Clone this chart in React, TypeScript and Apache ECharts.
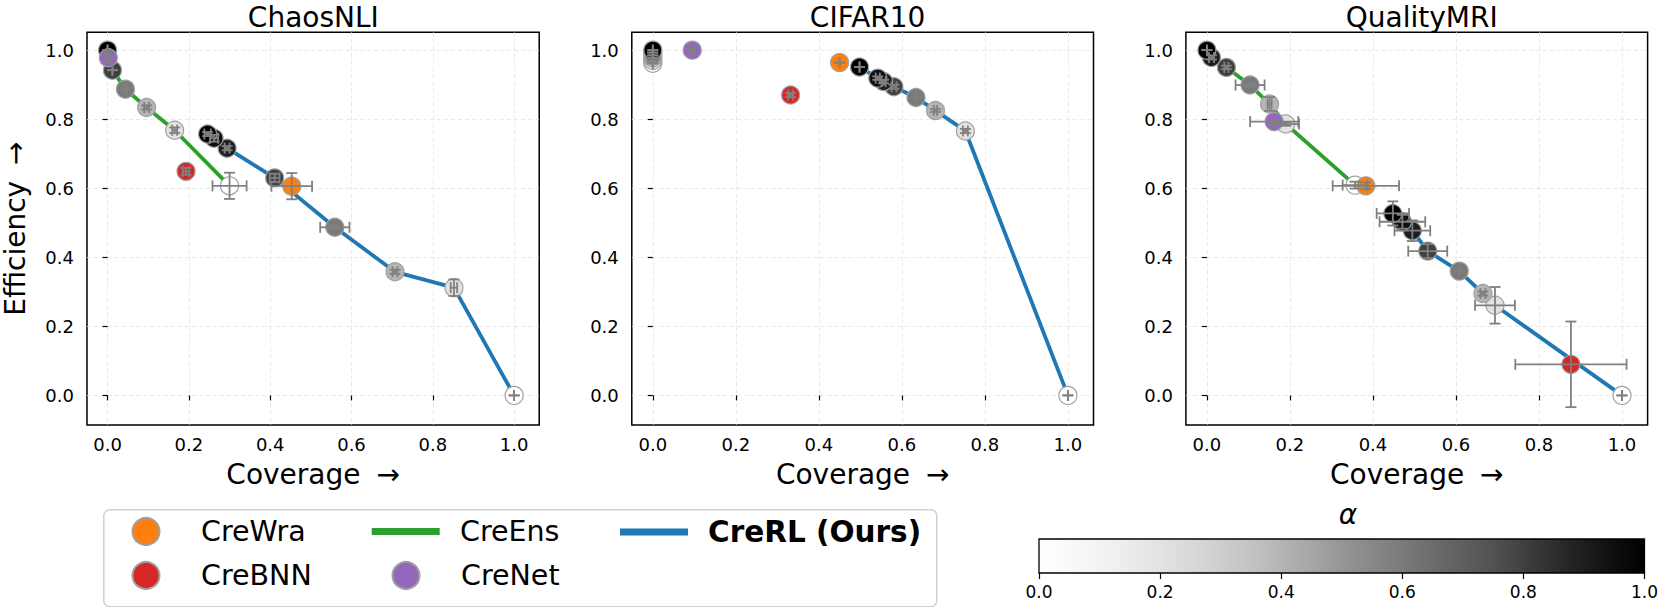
import React, { useEffect, useRef } from "react";
import * as echarts from "echarts";

// ---------- data ----------
const PANEL_TITLES = ["ChaosNLI", "CIFAR10", "QualityMRI"];
const X_TICKS = [0, 0.2, 0.4, 0.6, 0.8, 1.0];
const Y_TICKS = [0, 0.2, 0.4, 0.6, 0.8, 1.0];
const CBAR_TICKS = [0, 0.2, 0.4, 0.6, 0.8, 1.0];
const GREYS = ["#ffffff", "#f0f0f0", "#d9d9d9", "#bdbdbd", "#969696", "#737373", "#525252", "#252525", "#000000"];

// each point: [coverage, efficiency, coverageErr, efficiencyErr, alpha]
const chaosEns = [
  [0.0, 1.0, 0, 0, 1.0],
  [0.012, 0.942, 0, 0, 0.8],
  [0.044, 0.887, 0.003, 0.003, 0.6],
  [0.096, 0.834, 0.006, 0.006, 0.4],
  [0.165, 0.768, 0.006, 0.008, 0.2],
  [0.3, 0.607, 0.042, 0.038, 0.0],
];
const chaosRL = [
  [0.246, 0.757, 0.008, 0.006, 1.0],
  [0.262, 0.745, 0.01, 0.01, 0.95],
  [0.294, 0.716, 0.006, 0.006, 0.9],
  [0.411, 0.63, 0.012, 0.012, 0.8],
  [0.559, 0.487, 0.036, 0.005, 0.6],
  [0.707, 0.358, 0.006, 0.006, 0.4],
  [0.852, 0.312, 0.008, 0.024, 0.2],
  [1.0, 0.0, 0, 0, 0.0],
];
const chaosWra = [[0.453, 0.606, 0.05, 0.038]];
const chaosBNN = [[0.193, 0.649, 0.008, 0.01]];
const chaosNet = [[0.002, 0.978, 0.003, 0.01]];

const cifarEns = [
  [0.0, 1.0, 0, 0, 1.0],
  [0.0, 0.993, 0, 0, 0.8],
  [0.0, 0.985, 0, 0, 0.6],
  [0.0, 0.978, 0, 0, 0.4],
  [0.0, 0.97, 0, 0, 0.2],
  [0.0, 0.962, 0, 0, 0.0],
];
const cifarRL = [
  [0.498, 0.951, 0, 0, 1.0],
  [0.542, 0.919, 0.005, 0.005, 0.95],
  [0.556, 0.909, 0.005, 0.005, 0.9],
  [0.581, 0.894, 0.006, 0.006, 0.8],
  [0.634, 0.863, 0, 0, 0.6],
  [0.681, 0.825, 0.004, 0.004, 0.4],
  [0.753, 0.766, 0.006, 0.006, 0.2],
  [1.0, 0.0, 0, 0, 0.0],
];
const cifarWra = [[0.45, 0.964, 0, 0]];
const cifarBNN = [[0.332, 0.87, 0.006, 0.006]];
const cifarNet = [[0.095, 1.0, 0.005, 0.003]];

const qualEns = [
  [0.0, 1.0, 0, 0, 1.0],
  [0.011, 0.979, 0.006, 0.006, 0.9],
  [0.047, 0.95, 0.005, 0.005, 0.8],
  [0.104, 0.899, 0.035, 0.004, 0.6],
  [0.151, 0.844, 0.005, 0.02, 0.4],
  [0.19, 0.786, 0.032, 0.005, 0.2],
  [0.357, 0.609, 0.03, 0.01, 0.0],
];
const qualRL = [
  [0.448, 0.527, 0.039, 0.035, 1.0],
  [0.471, 0.503, 0.055, 0.02, 0.95],
  [0.495, 0.477, 0.043, 0.03, 0.9],
  [0.532, 0.418, 0.047, 0.02, 0.8],
  [0.608, 0.36, 0, 0, 0.6],
  [0.665, 0.295, 0.006, 0.006, 0.4],
  [0.694, 0.261, 0.048, 0.053, 0.2],
  [1.0, 0.0, 0, 0, 0.0],
];
const qualWra = [[0.383, 0.607, 0.08, 0.01]];
const qualBNN = [[0.877, 0.09, 0.134, 0.124]];
const qualNet = [[0.162, 0.793, 0.058, 0.005]];

const PANELS = [
  { ens: chaosEns, rl: chaosRL, wra: chaosWra, bnn: chaosBNN, net: chaosNet },
  { ens: cifarEns, rl: cifarRL, wra: cifarWra, bnn: cifarBNN, net: cifarNet },
  { ens: qualEns, rl: qualRL, wra: qualWra, bnn: qualBNN, net: qualNet },
];

// ---------- style / layout ----------
const FONT = "DejaVu Sans";
const C_WRA = "#ff7f0e";
const C_BNN = "#d62728";
const C_NET = "#9467bd";
const C_ENS = "#2ca02c";
const C_RL = "#1f77b4";
const ERR_COLOR = "#808080";
const EDGE = "#a0a0a0";
const GRID_LEFTS = [77.5, 631.8, 1185.9];
const GRID_TOP = 32.3;
const GRID_W = 461.7;
const GRID_H = 392.7;
const X_MIN = -0.0506;
const X_MAX = 1.0617;
const Y_MIN = -0.0857;
const Y_MAX = 1.0517;
const CAP = 5.5;
const MARKER = 18;

function errorRender(params: any, api: any) {
  const x = api.value(0);
  const y = api.value(1);
  const xe = api.value(2);
  const ye = api.value(3);
  const l = api.coord([x - xe, y]);
  const r = api.coord([x + xe, y]);
  const b = api.coord([x, y - ye]);
  const t = api.coord([x, y + ye]);
  const style = { stroke: ERR_COLOR, lineWidth: 1.8 };
  const ln = (x1: number, y1: number, x2: number, y2: number) => ({
    type: "line",
    shape: { x1, y1, x2, y2 },
    style,
  });
  return {
    type: "group",
    children: [
      ln(l[0], l[1], r[0], r[1]),
      ln(l[0], l[1] - CAP, l[0], l[1] + CAP),
      ln(r[0], r[1] - CAP, r[0], r[1] + CAP),
      ln(b[0], b[1], t[0], t[1]),
      ln(b[0] - CAP, b[1], b[0] + CAP, b[1]),
      ln(t[0] - CAP, t[1], t[0] + CAP, t[1]),
    ],
  };
}

function buildOption() {
  const grid: any[] = [];
  const xAxis: any[] = [];
  const yAxis: any[] = [];
  const series: any[] = [];
  const title: any[] = [];
  const greySeriesIdx: number[] = [];
  const nameStyle = {
    fontFamily: FONT,
    fontSize: 28,
    color: "#000",
    rich: { s: { width: 7 } },
  };

  PANELS.forEach((p, i) => {
    grid.push({
      left: GRID_LEFTS[i],
      top: GRID_TOP,
      width: GRID_W,
      height: GRID_H,
      show: true,
      borderColor: "#000",
      borderWidth: 1.5,
      backgroundColor: "#fff",
      containLabel: false,
    });
    title.push({
      text: PANEL_TITLES[i],
      left: GRID_LEFTS[i] + GRID_W / 2,
      top: -2,
      textAlign: "center",
      textStyle: { fontFamily: FONT, fontSize: 28, fontWeight: "normal", color: "#000" },
    });
    xAxis.push({
      type: "value",
      gridIndex: i,
      min: X_MIN,
      max: X_MAX,
      name: "Coverage {s|}→",
      nameLocation: "middle",
      nameGap: 35,
      nameTextStyle: nameStyle,
      axisLine: { show: false },
      axisTick: { show: true, customValues: X_TICKS, length: 5, lineStyle: { color: "#000", width: 1.2 } },
      axisLabel: {
        customValues: X_TICKS,
        fontFamily: FONT,
        fontSize: 18,
        color: "#000",
        margin: 10,
        formatter: (v: number) => v.toFixed(1),
      },
      splitLine: { show: true, lineStyle: { color: "#e3e3e3", type: [4, 3], width: 0.8 } },
    });
    yAxis.push({
      type: "value",
      gridIndex: i,
      min: Y_MIN,
      max: Y_MAX,
      name: i === 0 ? "Efficiency {s|}→" : "",
      nameLocation: "middle",
      nameGap: 58,
      nameTextStyle: nameStyle,
      axisLine: { show: false },
      axisTick: { show: true, customValues: Y_TICKS, length: 5, lineStyle: { color: "#000", width: 1.2 } },
      axisLabel: {
        customValues: Y_TICKS,
        fontFamily: FONT,
        fontSize: 18,
        color: "#000",
        margin: 13,
        formatter: (v: number) => v.toFixed(1),
      },
      splitLine: { show: true, lineStyle: { color: "#e3e3e3", type: [4, 3], width: 0.8 } },
    });

    series.push({
      type: "line",
      name: "CreEns",
      xAxisIndex: i,
      yAxisIndex: i,
      data: p.ens.map((d) => [d[0], d[1]]),
      symbol: "none",
      color: C_ENS,
      lineStyle: { color: C_ENS, width: 3.8 },
      z: 2,
    });
    series.push({
      type: "line",
      name: "CreRL (Ours)",
      xAxisIndex: i,
      yAxisIndex: i,
      data: p.rl.map((d) => [d[0], d[1]]),
      symbol: "none",
      color: C_RL,
      lineStyle: { color: C_RL, width: 3.8 },
      z: 2,
    });
    greySeriesIdx.push(series.length);
    const greyPts = [...p.ens, ...p.rl].slice().sort((a, b) => a[4] - b[4]);
    series.push({
      type: "scatter",
      name: "alpha points",
      xAxisIndex: i,
      yAxisIndex: i,
      data: greyPts,
      encode: { x: 0, y: 1 },
      symbol: "circle",
      symbolSize: MARKER,
      itemStyle: { borderColor: EDGE, borderWidth: 1.2, opacity: 1 },
      z: 3,
    });
    const colored: [string, number[][], string][] = [
      ["CreWra", p.wra, C_WRA],
      ["CreBNN", p.bnn, C_BNN],
      ["CreNet", p.net, C_NET],
    ];
    colored.forEach(([name, data, color]) => {
      series.push({
        type: "scatter",
        name,
        xAxisIndex: i,
        yAxisIndex: i,
        data,
        encode: { x: 0, y: 1 },
        symbol: "circle",
        symbolSize: MARKER,
        color,
        itemStyle: { color, borderColor: EDGE, borderWidth: 1.2, opacity: 1 },
        z: 4,
      });
    });
    series.push({
      type: "custom",
      name: "errors",
      xAxisIndex: i,
      yAxisIndex: i,
      data: [...p.ens, ...p.rl, ...p.wra, ...p.bnn, ...p.net].map((d) => [d[0], d[1], d[2], d[3]]),
      encode: { x: 0, y: 1 },
      renderItem: errorRender,
      clip: false,
      silent: true,
      z: 5,
    });
  });

  // colorbar
  grid.push({ left: 1039, top: 539, width: 608, height: 34, show: false, containLabel: false });
  xAxis.push({
    type: "value",
    gridIndex: 3,
    min: 0,
    max: 1,
    axisLine: { show: false },
    axisTick: { show: true, customValues: CBAR_TICKS, length: 6, lineStyle: { color: "#000", width: 1.2 } },
    axisLabel: {
      customValues: CBAR_TICKS,
      fontFamily: FONT,
      fontSize: 17,
      color: "#000",
      margin: 10,
      formatter: (v: number) => v.toFixed(1),
    },
    splitLine: { show: false },
  });
  yAxis.push({ type: "value", gridIndex: 3, min: 0, max: 1, show: false });
  series.push({
    type: "custom",
    name: "colorbar",
    xAxisIndex: 3,
    yAxisIndex: 3,
    data: [[0, 0, 1, 1]],
    silent: true,
    renderItem: (params: any, api: any) => {
      const p0 = api.coord([api.value(0), api.value(3)]);
      const p1 = api.coord([api.value(2), api.value(1)]);
      return {
        type: "rect",
        shape: { x: p0[0], y: p0[1], width: p1[0] - p0[0], height: p1[1] - p0[1] },
        style: {
          fill: new echarts.graphic.LinearGradient(
            0,
            0,
            1,
            0,
            GREYS.map((c, k) => ({ offset: k / (GREYS.length - 1), color: c }))
          ),
          stroke: "#000",
          lineWidth: 1.3,
        },
      };
    },
  });
  title.push({
    text: "α",
    left: 1343,
    top: 495,
    textAlign: "center",
    textStyle: { fontFamily: FONT, fontSize: 28, fontStyle: "italic", fontWeight: "normal", color: "#000" },
  });

  // legends
  const mkLegend = (name: string, left: number, top: number, icon: string, w: number, h: number, pad: number, bold = false) => ({
    data: [{ name, icon }],
    left,
    top,
    padding: 0,
    itemWidth: w,
    itemHeight: h,
    selectedMode: false,
    z: 10,
    formatter: (n: string) => `{p|}{t|${n}}`,
    textStyle: {
      fontFamily: FONT,
      fontSize: 28.5,
      color: "#000",
      fontWeight: bold ? "bold" : "normal",
      rich: {
        p: { width: pad },
        t: { fontFamily: FONT, fontSize: bold ? 29.5 : 28.5, color: "#000", fontWeight: bold ? "bold" : "normal" },
      },
    },
  });
  const legend = [
    mkLegend("CreWra", 131.5, 517, "circle", 27, 27, 36.5),
    mkLegend("CreBNN", 131.5, 561, "circle", 27, 27, 36.5),
    mkLegend("CreEns", 371.7, 517, "rect", 68, 7, 15.3),
    mkLegend("CreNet", 391.5, 561, "circle", 27, 27, 36.5),
    mkLegend("CreRL (Ours)", 620, 517, "rect", 68, 7, 15, true),
  ];

  return {
    animation: false,
    backgroundColor: "#fff",
    title,
    grid,
    xAxis,
    yAxis,
    legend,
    visualMap: {
      type: "continuous",
      show: false,
      min: 0,
      max: 1,
      dimension: 4,
      seriesIndex: greySeriesIdx,
      inRange: { color: GREYS },
    },
    graphic: [
      {
        type: "rect",
        left: 103,
        top: 509,
        shape: { width: 833, height: 97, r: 6 },
        style: { fill: "#fff", stroke: "#d0d0d0", lineWidth: 1.5 },
        z: 0,
      },
    ],
    series,
  };
}

export default function App() {
  const ref = useRef<HTMLDivElement>(null);
  useEffect(() => {
    if (!ref.current) return;
    const chart = echarts.init(ref.current, null, { renderer: "svg" });
    chart.setOption(buildOption() as any);
    return () => chart.dispose();
  }, []);
  return (
    <div
      ref={ref}
      style={{ position: "absolute", left: 0, top: 0, width: 1661, height: 607, background: "#fff" }}
    />
  );
}
